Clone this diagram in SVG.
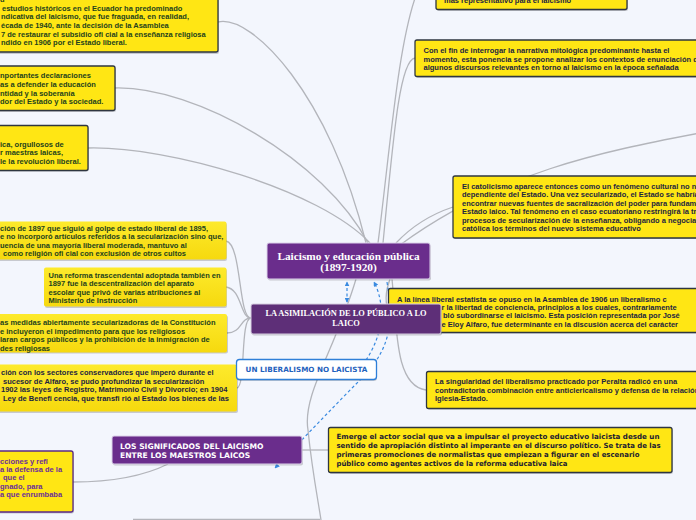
<svg xmlns="http://www.w3.org/2000/svg" width="696" height="520" viewBox="0 0 696 520">
<defs>
<style>
.bg{fill:#f3f6fd}
.ybox{fill:#ffe614;stroke:#2e3640;stroke-width:1.3}
.ysoft{fill:url(#ygrad);stroke:none}
.pbox{fill:#ffe614;stroke:#5b2a86;stroke-width:1.3}
.shadow{fill:#000;opacity:0.18}
.conn{fill:none;stroke:#b3b5bb;stroke-width:1.3}
.dash{fill:none;stroke:#3a8ae0;stroke-width:1.2;stroke-dasharray:3 2.5}
.t{font-family:"Liberation Sans",Arial,sans-serif;font-weight:bold;font-size:7.5px}
.tg{fill:#23421d}
.tn{fill:#1c2440}
.tp{fill:#6b2d9a}
.tv{font-family:"DejaVu Sans",Verdana,sans-serif;font-weight:bold;font-size:7.1px;fill:#1c2030}
.ser{font-family:"Liberation Serif","Times New Roman",serif;font-weight:bold;fill:#fff}
.cap{font-family:"DejaVu Sans",Verdana,sans-serif;font-weight:bold}
</style>
<linearGradient id="ygrad" x1="0" y1="0" x2="0" y2="1">
<stop offset="0" stop-color="#fdea2c"/>
<stop offset="1" stop-color="#f6d90e"/>
</linearGradient>
<marker id="arr" viewBox="0 0 8 8" refX="7" refY="4" markerWidth="5" markerHeight="5" orient="auto-start-reverse" markerUnits="userSpaceOnUse">
<path d="M0,0 L8,4 L0,8 z" fill="#3a8ae0"/>
</marker>
</defs>
<rect class="bg" x="0" y="0" width="696" height="520"/>

<g id="connectors">
<path class="conn" d="M218,22 C252,14 330,95 366,243"/>
<path class="conn" d="M115,88 C195,86 325,160 368,243"/>
<path class="conn" d="M88,148 C170,146 320,190 370,243"/>
<path class="conn" d="M418,-10 C398,40 390,150 378,243"/>
<path class="conn" d="M415,58 C400,60 394,130 383,243"/>
<path class="conn" d="M453,207 C432,214 412,226 396,243"/>
<path class="conn" d="M700,133 C600,152 500,172 400,245"/>
<path class="conn" d="M390,279 C385,292 385,305 389,310"/>
<path class="conn" d="M392,279 C397,330 395,386 426,390"/>
<path class="conn" d="M356,279 C335,350 302,395 308,430 C312,470 318,500 321,520"/>
<path class="conn" d="M302,450 L328,450"/>
<path class="conn" d="M168,464 C140,478 105,482 73,482"/>
<path class="conn" d="M133,519.5 L320,519.5"/>
<path class="conn" d="M251,318 C238,318 242,244 226,241"/>
<path class="conn" d="M251,318 C240,318 242,289 226,287"/>
<path class="conn" d="M251,318 C240,318 242,333 227,333"/>
<path class="conn" d="M251,318 C240,318 246,386 237,388"/>
<path class="dash" d="M347,302 L347,282" marker-start="url(#arr)" marker-end="url(#arr)"/>
<path class="dash" d="M366,360 C383,335 386,305 374,282" marker-end="url(#arr)"/>
<path class="dash" d="M387,282 C393,320 392,345 365,375 C335,405 300,442 275,468" marker-end="url(#arr)"/>
</g>

<g id="nodeA">
<rect class="shadow" x="-9" y="-9" width="228" height="63" rx="2"/>
<rect class="ybox" x="-10" y="-10" width="228" height="62" rx="2"/>
<g class="t tg">
<text x="0" y="2">d</text>
<text x="2" y="10.7">estudios históricos en el Ecuador ha predominado</text>
<text x="1" y="19.3">ndicativa del laicismo, que fue fraguada, en realidad,</text>
<text x="1" y="27.9">écada de 1940, ante la decisión de la Asamblea</text>
<text x="1" y="36.5">7 de restaurar el subsidio ofi cial a la enseñanza religiosa</text>
<text x="1" y="45.1">ndido en 1906 por el Estado liberal.</text>
</g>
</g>

<g id="nodeB">
<rect class="shadow" x="-9" y="67" width="125" height="45" rx="2"/>
<rect class="ybox" x="-10" y="66" width="125" height="44.5" rx="2"/>
<g class="t tg">
<text x="0" y="78.3">nportantes declaraciones</text>
<text x="0" y="87">as a defender la educación</text>
<text x="0" y="95.6">ntidad y la soberanía</text>
<text x="0" y="104.3">dor del Estado y la sociedad.</text>
</g>
</g>

<g id="nodeC">
<rect class="shadow" x="-9" y="126.5" width="98" height="45" rx="2"/>
<rect class="ybox" x="-10" y="125.5" width="98" height="45" rx="2"/>
<g class="t tg">
<text x="0" y="147">ica, orgullosos de</text>
<text x="0" y="155.3">r maestras laicas,</text>
<text x="0" y="163.7">le la revolución liberal.</text>
</g>
</g>

<g id="nodeD">
<rect class="shadow" x="-9" y="223" width="236" height="38" rx="2"/>
<rect class="ysoft" x="-10" y="221.5" width="236.5" height="38" rx="2"/>
<g class="t tg">
<text x="0" y="231">ción de 1897 que siguió al golpe de estado liberal de 1895,</text>
<text x="0" y="239.4">e no incorporó artículos referidos a la secularización sino que,</text>
<text x="0" y="247.8">uencia de una mayoría liberal moderada, mantuvo al</text>
<text x="3" y="256.3">como religión ofi cial con exclusión de otros cultos</text>
</g>
</g>

<g id="nodeE">
<rect class="shadow" x="45" y="269" width="182" height="39" rx="2"/>
<rect class="ysoft" x="44" y="267.5" width="182.5" height="39" rx="2"/>
<g class="t tg">
<text x="48.5" y="277.7">Una reforma trascendental adoptada también en</text>
<text x="48.5" y="286.3">1897 fue la descentralización del aparato</text>
<text x="48.5" y="294.7">escolar que privó de varias atribuciones al</text>
<text x="48.5" y="303.3">Ministerio de Instrucción</text>
</g>
</g>

<g id="nodeF">
<rect class="shadow" x="-9" y="315.5" width="237" height="38" rx="2"/>
<rect class="ysoft" x="-10" y="314" width="237" height="38.5" rx="2"/>
<g class="t tg">
<text x="0" y="325.3">as medidas abiertamente secularizadoras de la Constitución</text>
<text x="0" y="333.7">e incluyeron el impedimento para que los religiosos</text>
<text x="0" y="342.3">laran cargos públicos y la prohibición de la inmigración de</text>
<text x="0" y="350.7">des religiosas</text>
</g>
</g>

<g id="nodeG">
<rect class="shadow" x="-9" y="366" width="247" height="47" rx="2"/>
<rect class="ysoft" x="-10" y="364.5" width="247" height="47" rx="2"/>
<g class="t tn">
<text x="1" y="375.3">ción con los sectores conservadores que imperó durante el</text>
<text x="3" y="383.7">sucesor de Alfaro, se pudo profundizar la secularización</text>
<text x="1" y="392.3">1902 las leyes de Registro, Matrimonio Civil y Divorcio; en 1904</text>
<text x="3" y="400.7">Ley de Benefi cencia, que transfi rió al Estado los bienes de las</text>
</g>
</g>

<g id="nodeH">
<rect class="shadow" x="-9" y="452" width="83" height="61.5" rx="2"/>
<rect class="pbox" x="-10" y="451" width="83" height="61" rx="2"/>
<g class="t tp">
<text x="0" y="463.7">cciones y refl</text>
<text x="0" y="472">a la defensa de la</text>
<text x="3" y="480.3">que el</text>
<text x="0" y="488.7">gnado, para</text>
<text x="0" y="497">a que enrumbaba</text>
</g>
</g>

<g id="nodeI">
<rect class="shadow" x="437" y="-9" width="191" height="20" rx="2"/>
<rect class="ybox" x="436" y="-10" width="191" height="19.5" rx="2"/>
<text class="t tn" x="444" y="2.5">más representativo para el laicismo</text>
</g>

<g id="nodeJ">
<rect class="shadow" x="416" y="41" width="290" height="37" rx="2"/>
<rect class="ybox" x="415" y="40" width="290" height="36.5" rx="2"/>
<g class="t tn">
<text x="423.5" y="53.3">Con el fin de interrogar la narrativa mitológica predominante hasta el</text>
<text x="423.5" y="61.8">momento, esta ponencia se propone analizar los contextos de enunciación de</text>
<text x="423.5" y="70.3">algunos discursos relevantes en torno al laicismo en la época señalada</text>
</g>
</g>

<g id="nodeK">
<rect class="shadow" x="454" y="177" width="250" height="62" rx="2"/>
<rect class="ybox" x="453" y="176" width="250" height="62" rx="2"/>
<g class="t tn">
<text x="462" y="188.7">El catolicismo aparece entonces como un fenómeno cultural no ne</text>
<text x="462" y="197.2">dependiente del Estado. Una vez secularizado, el Estado se habría</text>
<text x="462" y="205.7">encontrar nuevas fuentes de sacralización del poder para fundame</text>
<text x="462" y="214.2">Estado laico. Tal fenómeno en el caso ecuatoriano restringirá la tr</text>
<text x="462" y="222.7">procesos de secularización de la enseñanza, obligando a negocia</text>
<text x="462" y="231.2">católica los términos del nuevo sistema educativo</text>
</g>
</g>

<g id="nodeL">
<rect class="shadow" x="389.5" y="289.5" width="316" height="44" rx="2"/>
<rect class="ybox" x="388.5" y="288.5" width="316" height="44" rx="2"/>
<g class="t tn">
<text x="397" y="301.7">A la línea liberal estatista se opuso en la Asamblea de 1906 un liberalismo c</text>
<text x="441.5" y="310">r la libertad de conciencia, principios a los cuales, contrariamente</text>
<text x="443" y="318.3">bló subordinarse el laicismo. Esta posición representada por José</text>
<text x="441.5" y="326.7">e Eloy Alfaro, fue determinante en la discusión acerca del carácter</text>
</g>
</g>

<g id="nodeM">
<rect class="shadow" x="427.5" y="372.5" width="280" height="37" rx="2"/>
<rect class="ybox" x="426.5" y="371.5" width="280" height="37" rx="2"/>
<g class="t tn">
<text x="435" y="384.3">La singularidad del liberalismo practicado por Peralta radicó en una</text>
<text x="435" y="392.7">contradictoria combinación entre anticlericalismo y defensa de la relación</text>
<text x="435" y="401">Iglesia-Estado.</text>
</g>
</g>

<g id="nodeN">
<rect class="shadow" x="329.5" y="428.5" width="343.5" height="45.5" rx="2"/>
<rect class="ybox" x="328.5" y="427.5" width="343.5" height="45" rx="2"/>
<g class="tv">
<text x="336.5" y="439.2" textLength="323" lengthAdjust="spacingAndGlyphs">Emerge el actor social que va a impulsar el proyecto educativo laicista desde un</text>
<text x="336.5" y="448.2" textLength="324" lengthAdjust="spacingAndGlyphs">sentido de apropiación distinto al imperante en el discurso político. Se trata de las</text>
<text x="336.5" y="456.8" textLength="303" lengthAdjust="spacingAndGlyphs">primeras promociones de normalistas que empiezan a figurar en el escenario</text>
<text x="336.5" y="465.8" textLength="231" lengthAdjust="spacingAndGlyphs">público como agentes activos de la reforma educativa laica</text>
</g>
</g>

<g id="center">
<rect class="shadow" x="268" y="244.5" width="163" height="36" rx="2"/>
<rect x="267" y="243" width="163" height="36" rx="2" fill="#6a2d8c" stroke="#dcd2ea" stroke-width="1"/>
<text class="ser" x="348.5" y="259.5" font-size="11.3" text-anchor="middle">Laicismo y educación pública</text>
<text class="ser" x="348.5" y="270.5" font-size="11.3" text-anchor="middle">(1897-1920)</text>
</g>

<g id="asimilacion">
<rect class="shadow" x="252" y="305.5" width="190" height="30" rx="2"/>
<rect x="251" y="304" width="190" height="30" rx="2" fill="#5e2f78" stroke="#d6cfe0" stroke-width="1"/>
<text class="ser" x="346" y="315.5" font-size="8.4" text-anchor="middle">LA ASIMILACIÓN DE LO PÚBLICO A LO</text>
<text class="ser" x="346" y="326.3" font-size="8.4" text-anchor="middle">LAICO</text>
</g>

<g id="liberalismo">
<rect class="shadow" x="237" y="361" width="140" height="20" rx="3"/>
<rect x="236.5" y="359.5" width="140" height="20" rx="3" fill="#ffffff" stroke="#2e7fd8" stroke-width="1.3"/>
<text class="cap" x="306.5" y="372" font-size="7.2" fill="#1f62bd" text-anchor="middle">UN LIBERALISMO NO LAICISTA</text>
</g>

<g id="significados">
<rect class="shadow" x="113" y="437.5" width="190" height="28" rx="2"/>
<rect x="112" y="436" width="190" height="28" rx="2" fill="#6a2d8c" stroke="#ddd4ea" stroke-width="1"/>
<text class="cap" x="120" y="448.7" font-size="7.6" fill="#fff">LOS SIGNIFICADOS DEL LAICISMO</text>
<text class="cap" x="120" y="457.7" font-size="7.6" fill="#fff">ENTRE LOS MAESTROS LAICOS</text>
</g>
</svg>
